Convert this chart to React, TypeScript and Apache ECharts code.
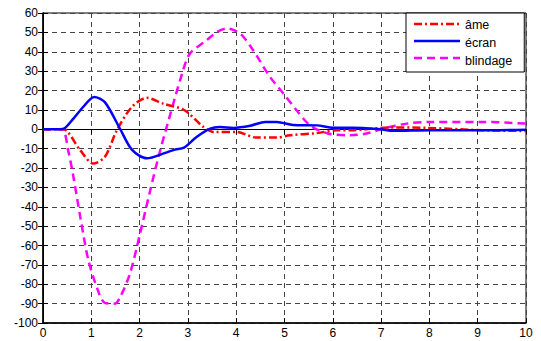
import React, { useEffect, useRef } from "react";
import * as echarts from "echarts";

const xTicks = [0, 1, 2, 3, 4, 5, 6, 7, 8, 9, 10];
const yTicks = [-100, -90, -80, -70, -60, -50, -40, -30, -20, -10, 0, 10, 20, 30, 40, 50, 60];

const seriesNames = ["âme", "écran", "blindage"];

const ame: [number, number][] = [
  [0, 0], [0.35, 0], [0.42, 0], [0.77, -10.8], [1.04, -17.7], [1.28, -14.3], [1.53, -0.5],
  [1.84, 11.5], [2.15, 16.2], [2.49, 13.2], [2.93, 9.8], [3.32, 1.2], [3.53, -1.4],
  [4.01, -1.4], [4.42, -4.3], [4.84, -4.3], [5.11, -3.1], [5.67, -2.0], [6.08, -0.5],
  [6.36, -0.5], [7.18, 0.9], [7.94, 0.7], [9.1, -0.5], [10, -0.9],
];

const ecran: [number, number][] = [
  [0, 0], [0.35, 0], [0.45, 0.5], [0.63, 5.5], [0.85, 12], [1.06, 16.7], [1.28, 14],
  [1.6, 0], [1.84, -10.5], [2.15, -15], [2.53, -12.2], [2.73, -10.5], [2.92, -9.5],
  [3.18, -4], [3.46, 0.3], [3.66, 1.2], [3.94, 0.7], [4.29, 1.8], [4.6, 3.8], [4.84, 3.8],
  [5.18, 2.2], [5.67, 2], [6.01, 0.8], [6.4, 0.8], [6.98, 0], [7.25, -0.8], [8, -0.5],
  [9, -0.5], [10, -0.2],
];

const blindage: [number, number][] = [
  [0, 0], [0.39, 0], [0.52, -10.8], [0.63, -24.6], [0.77, -45], [0.94, -67.6], [1.15, -84],
  [1.28, -89.6], [1.49, -90], [1.6, -86.5], [1.8, -74.5], [2.01, -53.8], [2.22, -31.5],
  [2.39, -14.3], [2.6, 4.6], [2.88, 28.7], [3.04, 39], [3.39, 46], [3.6, 50.2], [3.8, 52],
  [4.08, 49.4], [4.35, 40.8], [4.7, 27], [4.98, 18.4], [5.25, 9.8], [5.53, 2], [5.9, -2.2],
  [6.36, -3.1], [6.7, -2.2], [7.05, 0.4], [7.53, 2.9], [8.01, 3.8], [9.12, 3.8], [10, 2.9],
];

const colors = ["#ff0000", "#0000ff", "#ff00ff"];
const dashes: (number[] | null)[] = [[8, 3, 2, 3], null, [8, 5]];

export default function App() {
  const ref = useRef<HTMLDivElement>(null);
  useEffect(() => {
    document.body.style.margin = "0";
    if (!ref.current) return;
    const chart = echarts.init(ref.current, null, { renderer: "svg" });
    const font = "Arial, 'Liberation Sans', sans-serif";
    const gridLine = { show: true, lineStyle: { color: "#444", width: 1, type: [5, 4] as number[] } };
    const tickStyle = { show: true, inside: true, length: 5, lineStyle: { color: "#000", width: 1 } };

    // legend layout
    const legTop = 13;
    const padTop = 5;
    const padLeft = 8;
    const rowH = 12;
    const gap = 5;
    const iconW = 46;
    const legendLines = seriesNames.map((_, i) => {
      const y = legTop + padTop + rowH / 2 + i * (rowH + gap);
      return {
        type: "line",
        z: 100,
        shape: { x1: 0, y1: y, x2: iconW, y2: y },
        x: 406 + padLeft,
        style: {
          stroke: colors[i],
          lineWidth: 2.5,
          lineDash: dashes[i] || undefined,
        },
      };
    });

    chart.setOption({
      animation: false,
      backgroundColor: "#fff",
      textStyle: { fontFamily: font },
      grid: { left: 43, right: 15, top: 13, bottom: 18, show: true, borderColor: "#000", borderWidth: 1 },
      legend: {
        data: seriesNames,
        icon: "none",
        left: 406,
        top: legTop,
        orient: "vertical",
        backgroundColor: "#fff",
        borderColor: "#000",
        borderWidth: 1,
        borderRadius: 0,
        padding: [padTop, 12, 5, padLeft],
        itemGap: gap,
        itemWidth: iconW,
        itemHeight: rowH,
        textStyle: { fontFamily: font, fontSize: 12.5, lineHeight: 12, color: "#000" },
      },
      graphic: legendLines,
      xAxis: [
        {
          type: "value", min: 0, max: 10, interval: 1,
          axisLine: { show: true, onZero: false, lineStyle: { color: "#000", width: 1.5 } },
          axisTick: tickStyle,
          axisLabel: { color: "#000", fontSize: 12, fontFamily: font, margin: 4 },
          splitLine: gridLine,
        },
        {
          type: "value", min: 0, max: 10, interval: 1, position: "top",
          axisLine: { show: true, lineStyle: { color: "#000" } },
          axisTick: tickStyle, axisLabel: { show: false }, splitLine: { show: false },
        },
      ],
      yAxis: [
        {
          type: "value", min: -100, max: 60, interval: 10,
          axisLine: { show: true, onZero: false, lineStyle: { color: "#000", width: 1.5 } },
          axisTick: tickStyle,
          axisLabel: { color: "#000", fontSize: 12, fontFamily: font, margin: 5 },
          splitLine: gridLine,
        },
        {
          type: "value", min: -100, max: 60, interval: 10, position: "right",
          axisLine: { show: true, lineStyle: { color: "#000" } },
          axisTick: tickStyle, axisLabel: { show: false }, splitLine: { show: false },
        },
      ],
      series: [
        {
          name: seriesNames[0], type: "line", data: ame, symbol: "none", smooth: 0.3,
          lineStyle: { color: colors[0], width: 2.5, type: dashes[0] },
          itemStyle: { color: colors[0] }, z: 3,
        },
        {
          name: seriesNames[1], type: "line", data: ecran, symbol: "none", smooth: 0.3,
          lineStyle: { color: colors[1], width: 2.5, type: "solid" },
          itemStyle: { color: colors[1] }, z: 4,
        },
        {
          name: seriesNames[2], type: "line", data: blindage, symbol: "none", smooth: 0.3,
          lineStyle: { color: colors[2], width: 2.5, type: dashes[2] },
          itemStyle: { color: colors[2] }, z: 2,
        },
      ],
    });
    return () => chart.dispose();
  }, []);
  return <div ref={ref} style={{ width: 541, height: 341 }} />;
}
